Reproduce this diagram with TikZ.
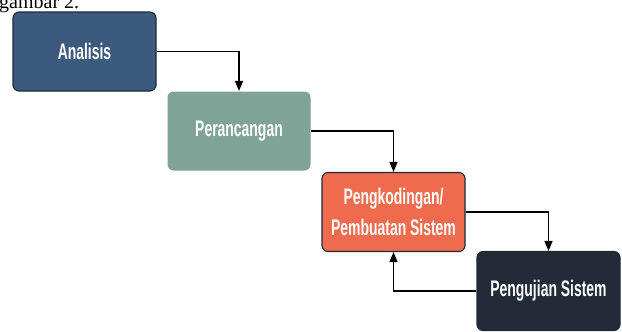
\documentclass[tikz,border=0pt]{standalone}
\usepackage{fontspec}
\usepackage{tikz}
\usetikzlibrary{arrows.meta}
\newfontfamily\boxfont{Liberation Sans}[FakeStretch=0.62]
\newfontfamily\capfont{Liberation Serif}
\definecolor{analisisblue}{HTML}{3C5A7E}
\definecolor{rancanggreen}{HTML}{80A398}
\definecolor{kodeorange}{HTML}{EF6B4D}
\definecolor{ujinavy}{HTML}{232A38}
\definecolor{boxedge}{HTML}{1E2A38}
\tikzset{
	phasebox/.style={rounded corners=6pt, minimum width=143pt, minimum height=79pt, text=white, align=center, font={\boxfont\bfseries\fontsize{22.5}{31}\selectfont}, line width=1.1pt},
	flowarrow/.style={line width=1.2pt, -{Triangle[length=10pt,width=8pt]}}
}

\begin{document}
\begin{tikzpicture}[x=1pt, y=-1pt]
		%%%%% START %%%%%
		
		\useasboundingbox (0, 0) rectangle (622, 332);
		\begin{scope}
		\clip (0, 0) rectangle (622, 332);
		\node[anchor=base west, inner sep=0pt, font=\capfont\fontsize{20}{24}\selectfont] (caption) at (-1, 9) {gambar 2.};
		\end{scope}
		
		\node[phasebox, draw=boxedge, fill=analisisblue] (analisis) at (84.5, 51.5) {Analisis};
		\node[phasebox, fill=rancanggreen] (perancangan) at (239, 131) {Perancangan};
		\node[phasebox, draw=boxedge, fill=kodeorange] (kode) at (393.5, 212) {Pengkodingan/\\Pembuatan Sistem};
		\node[phasebox, draw=boxedge, fill=ujinavy] (uji) at (548.5, 291) {Pengujian Sistem};
		
		\draw[flowarrow] (analisis.east) -| (perancangan.north);
		\draw[flowarrow] (perancangan.east) -| (kode.north);
		\draw[flowarrow] (kode.east) -| (uji.north);
		\draw[flowarrow] (uji.west) -| (kode.south);
		
		%%%%% END %%%%%
	\end{tikzpicture}
\end{document}
